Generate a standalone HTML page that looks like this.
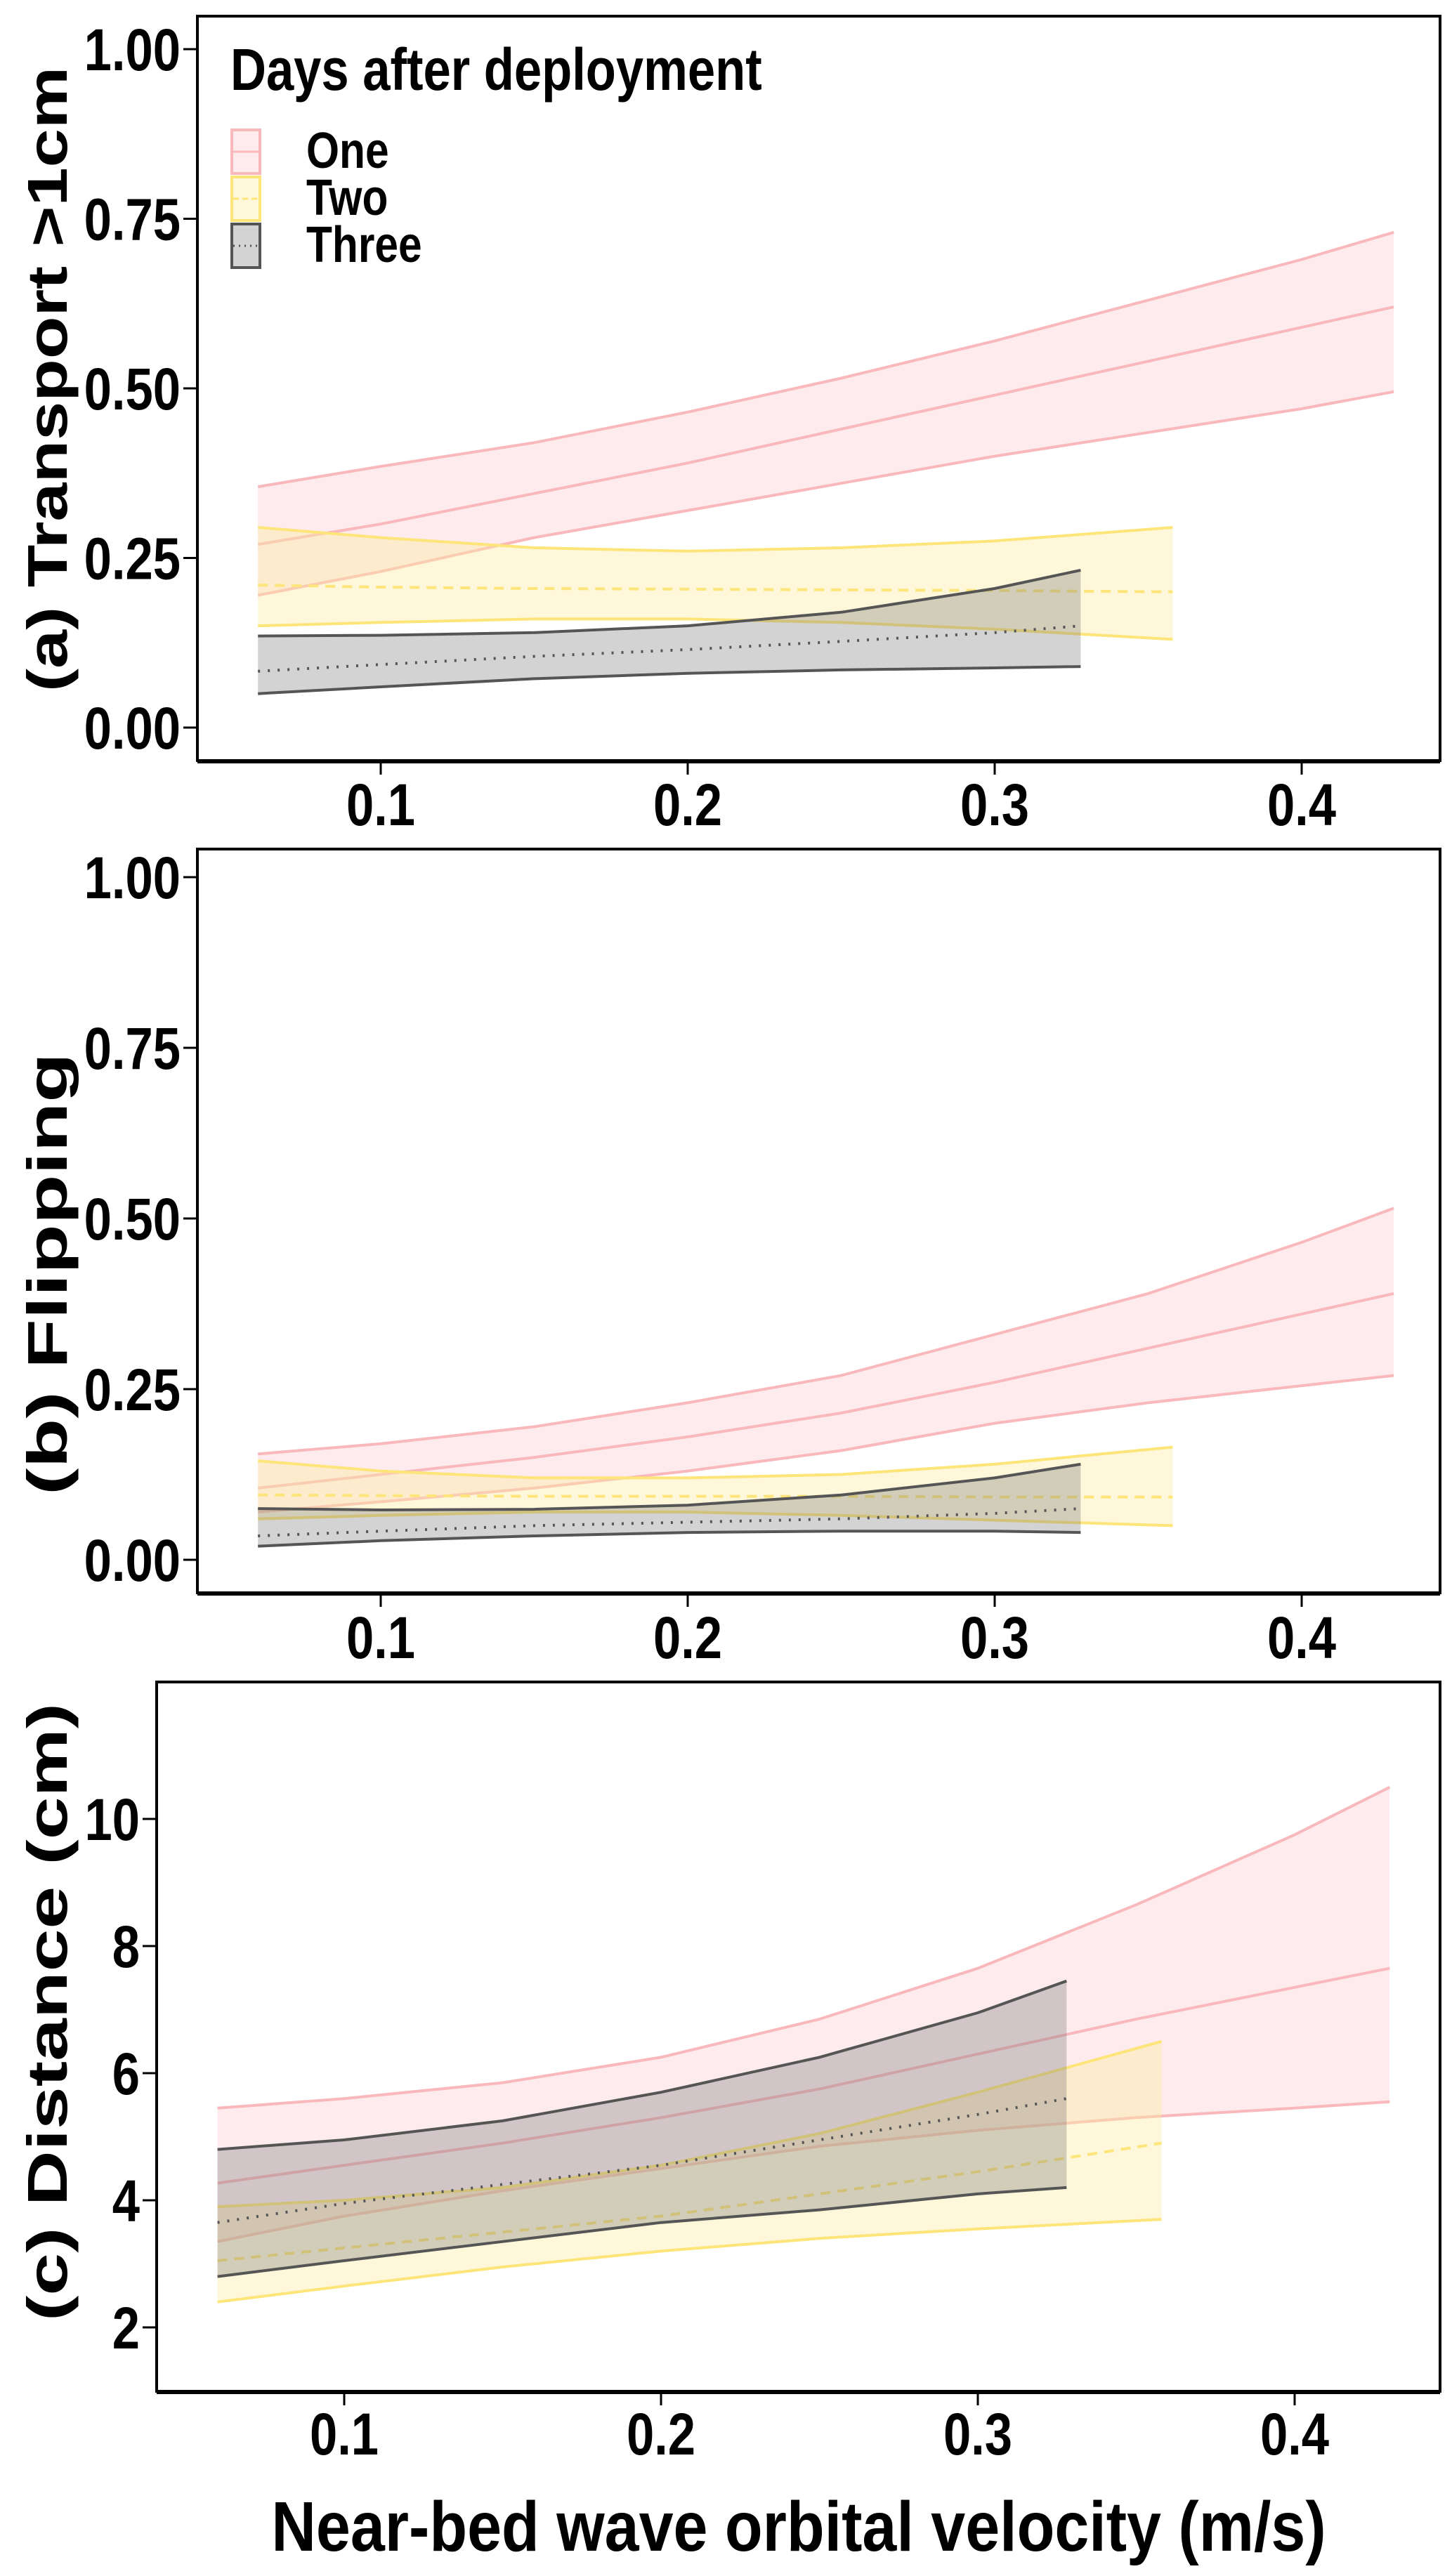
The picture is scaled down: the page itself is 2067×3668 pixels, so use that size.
<!DOCTYPE html>
<html><head><meta charset="utf-8"><style>
html,body{margin:0;padding:0;background:#fff}
svg{display:block}
text{font-family:"Liberation Sans",Arial,sans-serif;font-weight:bold;fill:#000}
</style></head><body>
<svg id="fig" width="2067" height="3668" viewBox="0 0 2067 3668" xmlns="http://www.w3.org/2000/svg"></svg>
<script>
// ---- data ----
const xsOne = [0.06,0.1,0.15,0.2,0.25,0.3,0.35,0.4,0.43];
const xsTwo = [0.06,0.1,0.15,0.2,0.25,0.3,0.358];
const xsThree = [0.06,0.1,0.15,0.2,0.25,0.3,0.328];
const xTicks = [0.1,0.2,0.3,0.4];
const xTickLabels = ["0.1","0.2","0.3","0.4"];

const aOneMean = [.27,.30,.345,.39,.44,.49,.54,.59,.62];
const aOneUp = [.355,.385,.42,.465,.515,.57,.63,.69,.73];
const aOneLo = [.195,.23,.28,.32,.36,.40,.435,.47,.495];
const aTwoMean = [.21,.207,.205,.204,.203,.202,.20];
const aTwoUp = [.295,.28,.265,.26,.265,.275,.295];
const aTwoLo = [.15,.155,.16,.16,.155,.145,.13];
const aThreeMean = [.083,.093,.105,.115,.127,.14,.15];
const aThreeUp = [.135,.136,.14,.15,.17,.205,.232];
const aThreeLo = [.05,.06,.072,.08,.085,.088,.09];

const bOneMean = [.105,.125,.15,.18,.215,.26,.31,.36,.39];
const bOneUp = [.155,.17,.195,.23,.27,.33,.39,.465,.515];
const bOneLo = [.07,.085,.105,.13,.16,.2,.23,.255,.27];
const bTwoMean = [.095,.094,.093,.093,.093,.092,.092];
const bTwoUp = [.145,.13,.12,.12,.125,.14,.165];
const bTwoLo = [.06,.065,.07,.07,.065,.058,.05];
const bThreeMean = [.035,.042,.05,.055,.06,.068,.075];
const bThreeUp = [.075,.073,.074,.08,.095,.12,.14];
const bThreeLo = [.02,.028,.035,.04,.042,.042,.04];

const cOneMean = [4.27,4.55,4.9,5.3,5.75,6.3,6.85,7.35,7.65];
const cOneUp = [5.45,5.6,5.85,6.25,6.85,7.65,8.65,9.75,10.5];
const cOneLo = [3.35,3.75,4.15,4.5,4.85,5.1,5.3,5.45,5.55];
const cTwoMean = [3.05,3.25,3.5,3.75,4.1,4.45,4.9];
const cTwoUp = [3.9,4.0,4.2,4.55,5.05,5.7,6.5];
const cTwoLo = [2.4,2.65,2.95,3.2,3.4,3.55,3.7];
const cThreeMean = [3.65,3.95,4.25,4.55,4.95,5.35,5.6];
const cThreeUp = [4.8,4.95,5.25,5.7,6.25,6.95,7.45];
const cThreeLo = [2.8,3.05,3.35,3.65,3.85,4.1,4.2];

const probTicks = [0,0.25,0.5,0.75,1];
const probTickLabels = ["0.00","0.25","0.50","0.75","1.00"];
const distTicks = [2,4,6,8,10];
const distTickLabels = ["2","4","6","8","10"];

const NS = "http://www.w3.org/2000/svg";
const svg = document.getElementById('fig');
function mk(tag, attrs, parent){
  const e = document.createElementNS(NS, tag);
  for (const k in attrs) e.setAttribute(k, attrs[k]);
  (parent||svg).appendChild(e);
  return e;
}
const styles = {
  one:{fill:"rgba(250,190,195,0.30)", stroke:"#f9b8bc", dash:null},
  two:{fill:"rgba(253,236,160,0.40)", stroke:"#fde57a", dash:"14,10"},
  three:{fill:"rgba(120,120,120,0.33)", stroke:"#555555", dash:"3,11"}
};

function panel(cfg){
  const g = mk('g', {});
  
  
  const X = v => cfg.x0px + (v - 0.1) / 0.1 * cfg.xScale;
  const Y = v => cfg.y0px - (v - cfg.yRef) * cfg.yScale;
  const series = [
    ['one', xsOne, cfg.one], ['two', xsTwo, cfg.two], ['three', xsThree, cfg.three]
  ];
  series.forEach(([key, xs, d]) => {
    const st = styles[key];
    const [mean, up, lo] = d;
    let pts = xs.map((x,i)=>X(x).toFixed(1)+','+Y(up[i]).toFixed(1));
    for (let i = xs.length-1; i>=0; i--) pts.push(X(xs[i]).toFixed(1)+','+Y(lo[i]).toFixed(1));
    const band = mk('polygon', {points: pts.join(' '), fill: st.fill, stroke:'none'}, g);
    
    
    [[up,'upper'],[lo,'lower']].forEach(([arr,nm])=>{
      const l = mk('polyline', {points: xs.map((x,i)=>X(x).toFixed(1)+','+Y(arr[i]).toFixed(1)).join(' '), fill:'none', stroke:st.stroke, 'stroke-width':4}, g);
      
      
    });
    const m = mk('polyline', {points: xs.map((x,i)=>X(x).toFixed(1)+','+Y(mean[i]).toFixed(1)).join(' '), fill:'none', stroke:st.stroke, 'stroke-width':4}, g);
    if (st.dash) m.setAttribute('stroke-dasharray', st.dash);
    
    
  });
  const fr = mk('rect', {x:cfg.left, y:cfg.top, width:cfg.right-cfg.left, height:cfg.bottom-cfg.top, fill:'none', stroke:'#000', 'stroke-width':4}, g);
  
  
  mk('line', {x1:cfg.left, x2:cfg.right, y1:cfg.bottom+1, y2:cfg.bottom+1, stroke:'#000','stroke-width':6}, g);
  xTicks.forEach((t,i)=>{
    mk('line', {x1:X(t), x2:X(t), y1:cfg.bottom, y2:cfg.bottom+20, stroke:'#000','stroke-width':3}, g);
    const tx = mk('text', {x:X(t), y:cfg.xLabelY, 'text-anchor':'middle', 'font-size':84, transform:`translate(${X(t)},0) scale(0.84,1) translate(${-X(t)},0)`}, g);
    tx.textContent = xTickLabels[i];
    
    
  });
  cfg.yTicks.forEach((t,i)=>{
    mk('line', {x1:cfg.left-20, x2:cfg.left, y1:Y(t), y2:Y(t), stroke:'#000','stroke-width':3}, g);
    const lx = cfg.left - 24;
    const ty = mk('text', {x:lx, y:Y(t)+30, 'text-anchor':'end', 'font-size':84, transform:`translate(${lx},0) scale(0.84,1) translate(${-lx},0)`}, g);
    ty.textContent = cfg.yTickLabels[i];
    
    
  });
  const yt = mk('text', {x:0, y:0, 'text-anchor':'middle', 'font-size':80, textLength:cfg.titleLen, lengthAdjust:'spacingAndGlyphs', transform:`translate(${cfg.titleX},${cfg.titleY}) rotate(-90)`}, g);
  yt.textContent = cfg.title;
  
  
  return g;
}

panel({name:'panel-a-transport', left:281, right:2050, top:23, bottom:1083,
  x0px:542, xScale:437, y0px:1036, yRef:0, yScale:966,
  xLabelY:1175, yTicks:probTicks, yTickLabels:probTickLabels,
  title:'(a) Transport >1cm', titleX:95, titleY:540, titleLen:890,
  one:[aOneMean,aOneUp,aOneLo], two:[aTwoMean,aTwoUp,aTwoLo], three:[aThreeMean,aThreeUp,aThreeLo]});
panel({name:'panel-b-flipping', left:281, right:2050, top:1209, bottom:2268,
  x0px:542, xScale:437, y0px:2221, yRef:0, yScale:972,
  xLabelY:2361, yTicks:probTicks, yTickLabels:probTickLabels,
  title:'(b) Flipping', titleX:95, titleY:1814, titleLen:630,
  one:[bOneMean,bOneUp,bOneLo], two:[bTwoMean,bTwoUp,bTwoLo], three:[bThreeMean,bThreeUp,bThreeLo]});
panel({name:'panel-c-distance', left:223, right:2050, top:2395, bottom:3405,
  x0px:490, xScale:451, y0px:3314, yRef:2, yScale:90.5,
  xLabelY:3495, yTicks:distTicks, yTickLabels:distTickLabels,
  title:'(c) Distance (cm)', titleX:95, titleY:2865, titleLen:880,
  one:[cOneMean,cOneUp,cOneLo], two:[cTwoMean,cTwoUp,cTwoLo], three:[cThreeMean,cThreeUp,cThreeLo]});

const xt = mk('text', {x:1137, y:3632, 'text-anchor':'middle', 'font-size':100, transform:'translate(1137,0) scale(0.88,1) translate(-1137,0)'});
xt.textContent = 'Near-bed wave orbital velocity (m/s)';



const lg = mk('g', {});


const lt = mk('text', {x:328, y:128, 'font-size':84, transform:'translate(328,0) scale(0.84,1) translate(-328,0)'}, lg);
lt.textContent = 'Days after deployment';


const legKeys = ['one','two','three'];
const legLabels = ['One','Two','Three'];
const legTops = [185, 252, 319];
legKeys.forEach((k,i)=>{
  const st = styles[k];
  const e = mk('g', {}, lg);
  
  
  mk('rect', {x:330, y:legTops[i], width:40, height:62, fill:st.fill, stroke:st.stroke, 'stroke-width':4}, e);
  const ml = mk('line', {x1:332, x2:368, y1:legTops[i]+31, y2:legTops[i]+31, stroke:st.stroke, 'stroke-width':3}, e);
  if (st.dash) ml.setAttribute('stroke-dasharray', k==='two'?'8,5':'2,6');
  const t = mk('text', {x:436, y:legTops[i]+54, 'font-size':72, transform:'translate(436,0) scale(0.84,1) translate(-436,0)'}, e);
  t.textContent = legLabels[i];
});
</script>
</body></html>
